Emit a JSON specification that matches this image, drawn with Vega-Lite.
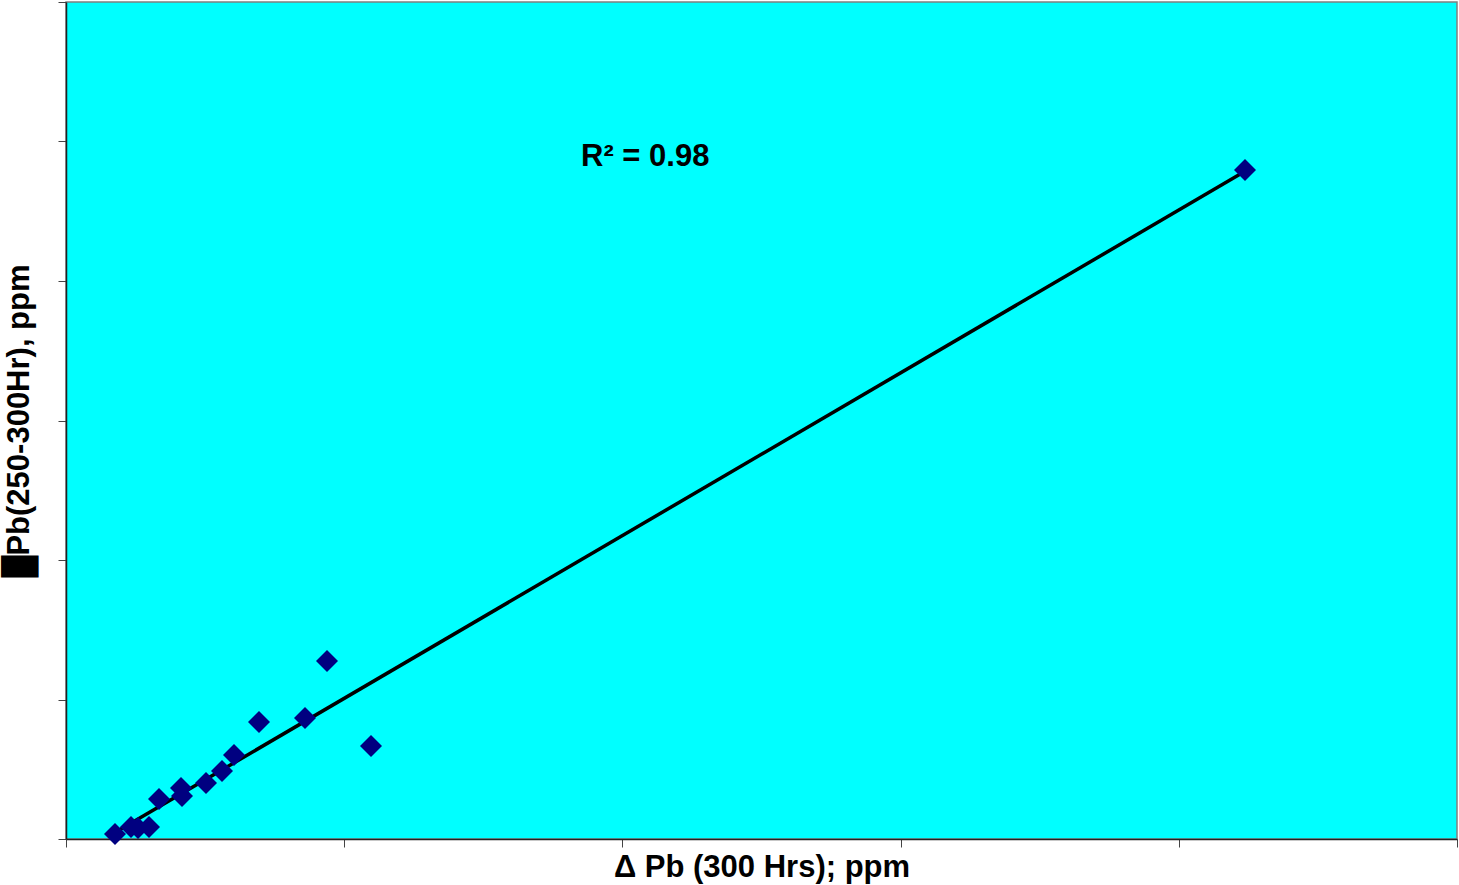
{
  "$schema": "https://vega.github.io/schema/vega-lite/v6.json",
  "width": 1391,
  "height": 837,
  "autosize": "none",
  "padding": {"left": 66, "top": 2, "right": 2, "bottom": 46},
  "background": "white",
  "config": {
    "view": {"fill": "#00FFFF", "stroke": "#808080", "strokeWidth": 1.5},
    "axis": {
      "labels": false,
      "grid": false,
      "domainColor": "#222222",
      "domainWidth": 1.5,
      "tickColor": "#444444",
      "tickSize": 8,
      "titleFont": "Liberation Sans",
      "titleFontSize": 31,
      "titleFontWeight": "bold",
      "titleColor": "black"
    }
  },
  "datasets": {
    "pts": [
      {"x": 8.81, "y": 1.79},
      {"x": 11.68, "y": 4.30},
      {"x": 12.94, "y": 3.94},
      {"x": 14.92, "y": 4.30},
      {"x": 16.71, "y": 14.34},
      {"x": 20.67, "y": 18.28},
      {"x": 20.85, "y": 15.41},
      {"x": 25.16, "y": 20.07},
      {"x": 28.04, "y": 24.37},
      {"x": 30.19, "y": 30.11},
      {"x": 34.69, "y": 41.94},
      {"x": 42.95, "y": 43.37},
      {"x": 46.91, "y": 63.80},
      {"x": 54.82, "y": 33.33},
      {"x": 211.9, "y": 239.8}
    ],
    "ann": [
      {"x": 104.1, "y": 241.2, "label": "R² = 0.98"}
    ]
  },
  "layer": [
    {
      "data": {"name": "pts"},
      "transform": [{"regression": "y", "on": "x"}],
      "mark": {"type": "line", "color": "black", "strokeWidth": 3.5},
      "encoding": {
        "x": {
          "field": "x", "type": "quantitative",
          "scale": {"domain": [0, 250], "nice": false},
          "axis": {"values": [0, 50, 100, 150, 200, 250], "title": "Δ Pb (300 Hrs); ppm", "titlePadding": 5}
        },
        "y": {
          "field": "y", "type": "quantitative",
          "scale": {"domain": [0, 300], "nice": false},
          "axis": {"values": [0, 50, 100, 150, 200, 250, 300], "title": "█Pb(250-300Hr), ppm", "titlePadding": 22}
        }
      }
    },
    {
      "data": {"name": "pts"},
      "mark": {"type": "point", "shape": "diamond", "filled": true, "color": "#000080", "opacity": 1, "size": 484, "strokeWidth": 0},
      "encoding": {
        "x": {"field": "x", "type": "quantitative"},
        "y": {"field": "y", "type": "quantitative"}
      }
    },
    {
      "data": {"name": "ann"},
      "mark": {"type": "text", "font": "Liberation Sans", "fontSize": 31, "fontWeight": "bold", "color": "black", "align": "center", "baseline": "alphabetic"},
      "encoding": {
        "x": {"field": "x", "type": "quantitative"},
        "y": {"field": "y", "type": "quantitative"},
        "text": {"field": "label"}
      }
    }
  ]
}
